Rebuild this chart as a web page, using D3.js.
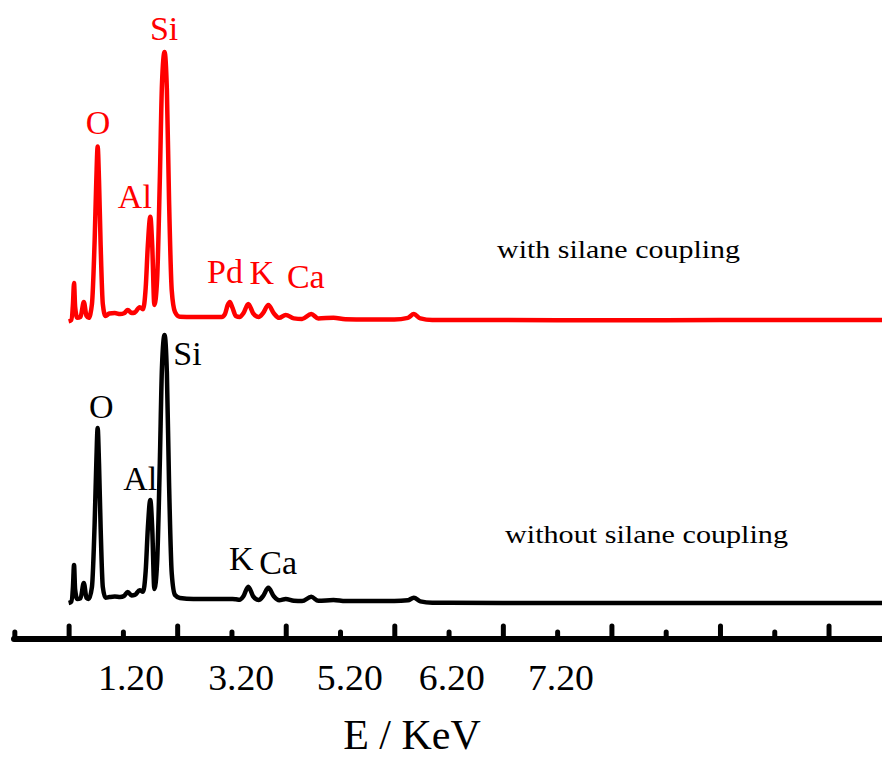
<!DOCTYPE html>
<html>
<head>
<meta charset="utf-8">
<script src="https://cdn.jsdelivr.net/npm/d3@7"></script>
<style>
  body { margin: 0; background: #fff; }
</style>
</head>
<body>
<div id="plot"></div>
<script>
// energy (keV), shared by both spectra
let energy = [0.00, 0.05, 0.08, 0.10, 0.12, 0.16, 0.22, 0.28, 0.33, 0.37,
  0.43, 0.48, 0.51, 0.535, 0.56, 0.59, 0.63, 0.68, 0.75, 0.85,
  0.95, 1.02, 1.09, 1.16, 1.22, 1.31, 1.37, 1.42, 1.46, 1.505,
  1.54, 1.58, 1.63, 1.68, 1.72, 1.767, 1.81, 1.85, 1.90, 1.96,
  2.05, 2.30, 2.60, 2.82, 2.88, 2.93, 2.97, 3.02, 3.08, 3.15,
  3.22, 3.31, 3.40, 3.50, 3.58, 3.68, 3.78, 3.88, 4.00, 4.15,
  4.30, 4.47, 4.60, 4.88, 5.10, 5.50, 6.00, 6.25, 6.36, 6.48,
  6.70, 8.00, 10.0, 12.0, 15.0]

// counts (a.u.), with silane coupling
let withSilane = [-5, 0, 60, 138, 50, 8, 12, 67, 15, 8,
  60, 300, 520, 647, 520, 280, 60, 15, 24, 26,
  22, 25, 37, 26, 28, 48, 40, 120, 280, 385,
  280, 56, 150, 520, 880, 1000, 860, 450, 110, 30,
  12, 11, 11, 11, 22, 55, 67, 45, 15, 11,
  25, 60, 25, 11, 25, 56, 25, 8, 19, 6,
  4, 22, 6, 8, 3, 2, 2, 8, 22, 6,
  0, 0, -1, 0, 0]

// counts (a.u.), without silane coupling
let withoutSilane = [0, 5, 60, 142, 50, 15, 18, 75, 19, 15,
  60, 300, 520, 653, 520, 280, 60, 20, 22, 24,
  22, 26, 41, 28, 30, 48, 42, 120, 280, 384,
  280, 52, 150, 520, 880, 1000, 860, 450, 110, 30,
  19, 15, 15, 15, 15, 15, 15, 15, 14, 12,
  25, 61, 25, 11, 25, 57, 25, 10, 15, 8,
  7, 23, 8, 11, 7, 7, 7, 10, 20, 6,
  1, 0, 0, 0, 0]

let redOffset = 1056 // vertical stacking of the upper spectrum

// peak labels: [text, keV, counts]
let redPeaks = [["O", 0.54, 694], ["Si", 1.76, 1045], ["Al", 1.22, 418], ["Pd", 2.88, 138], ["K", 3.56, 134], ["Ca", 4.37, 119]]
let blackPeaks = [["O", 0.60, 690], ["Si", 2.19, 888], ["Al", 1.32, 422], ["K", 3.18, 123], ["Ca", 3.86, 108]]

let tickLabels = ["1.20", "3.20", "5.20", "6.20", "7.20"]
let tickLabelKeV = [1.15, 3.18, 5.18, 7.06, 9.07]

window.addEventListener("load", main)

function main(){
  let W = 882, H = 759
  let serif = "'Liberation Serif', Tinos, 'Times New Roman', Times, serif"

  let svg = d3.select("#plot")
    .append("svg")
    .attr("width", W)
    .attr("height", H)
    .attr("font-family", serif)

  let xScale = d3.scaleLinear()
    .domain([-1.043, 14.985])
    .range([12, 882])

  let yScale = d3.scaleLinear()
    .domain([0, 2100])
    .range([603, 603 - 2100 * 0.268])

  let idx = d3.range(energy.length)

  let line = function(vals, off){
    return d3.line()
      .x(function(i){ return xScale(energy[i]) })
      .y(function(i){ return yScale(vals[i] + off) })
      .curve(d3.curveMonotoneX)(idx)
  }

  svg.append("path")
    .attr("d", line(withSilane, redOffset))
    .attr("fill", "none").attr("stroke", "#ff0000")
    .attr("stroke-width", 4.5).attr("stroke-linejoin", "round")

  svg.append("path")
    .attr("d", line(withoutSilane, 0))
    .attr("fill", "none").attr("stroke", "#000")
    .attr("stroke-width", 4.5).attr("stroke-linejoin", "round")

  // peak labels
  svg.append("g").selectAll("text")
    .data(redPeaks).enter().append("text")
    .attr("x", function(d){ return xScale(d[1]) })
    .attr("y", function(d){ return yScale(d[2] + redOffset) })
    .attr("text-anchor", "middle")
    .attr("font-size", 34).attr("fill", "#ff0000")
    .text(function(d){ return d[0] })

  svg.append("g").selectAll("text")
    .data(blackPeaks).enter().append("text")
    .attr("x", function(d){ return xScale(d[1]) })
    .attr("y", function(d){ return yScale(d[2]) })
    .attr("text-anchor", "middle")
    .attr("font-size", 34).attr("fill", "#000")
    .text(function(d){ return d[0] })

  // series captions
  svg.append("text")
    .attr("x", 497).attr("y", 258)
    .attr("font-size", 25).attr("textLength", 243).attr("lengthAdjust", "spacingAndGlyphs")
    .text("with silane coupling")

  svg.append("text")
    .attr("x", 505).attr("y", 543)
    .attr("font-size", 25).attr("textLength", 283).attr("lengthAdjust", "spacingAndGlyphs")
    .text("without silane coupling")

  // x axis, ticks point up from the line
  let axisY = 639
  let xAxis = svg.append("g")
    .attr("transform", "translate(0," + axisY + ")")
    .call(d3.axisTop(xScale).tickValues(d3.range(-1, 15)).tickFormat(""))
  xAxis.select(".domain").remove()
  xAxis.selectAll(".tick line")
    .attr("stroke", "#000").attr("stroke-width", 5).attr("stroke-linecap", "round")
    .attr("y2", function(d){ return d % 2 == 0 ? -13 : -7 })
  xAxis.append("line")
    .attr("x1", 14).attr("x2", 882)
    .attr("stroke", "#000").attr("stroke-width", 6).attr("stroke-linecap", "round")

  svg.append("g").selectAll("text")
    .data(tickLabels).enter().append("text")
    .attr("x", function(d, i){ return xScale(tickLabelKeV[i]) - 33 })
    .attr("y", 690)
    .attr("font-size", 36)
    .attr("textLength", 66).attr("lengthAdjust", "spacingAndGlyphs")
    .text(function(d){ return d })

  svg.append("text")
    .attr("x", 412).attr("y", 749)
    .attr("text-anchor", "middle")
    .attr("font-size", 42)
    .text("E / KeV")
}
</script>
</body>
</html>
